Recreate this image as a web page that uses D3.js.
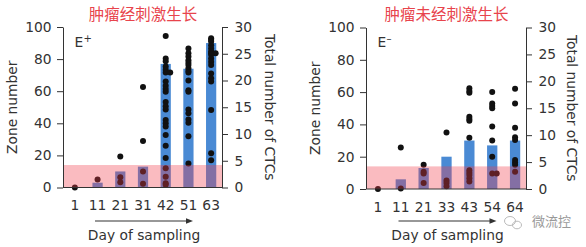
<!DOCTYPE html>
<html>
<head>
<meta charset="utf-8">
<script src="https://cdn.jsdelivr.net/npm/d3@7"></script>
<style>
  body { margin: 0; background: #fff; }
  svg text { font-family: "DejaVu Sans", sans-serif; fill: #333; }
</style>
</head>
<body>
<svg id="chart" width="586" height="247"></svg>
<script>
// zone number above which the tumour counts as stimulated (pink band)
var threshold = 14;

var zoneTicks = [0, 20, 40, 60, 80, 100];
var ctcTicks = [0, 5, 10, 15, 20, 25, 30];

// E+ : tumour growth stimulated
var daysStim = ['1', '11', '21', '31', '42', '51', '63'];
var zonesStim = [0, 3, 10, 13, 77, 74, 90];
var ctcsStim = [
  [0],
  [1.5],
  [5.8, 1.9, 1.0],
  [18.8, 8.7, 3.0, 0.7],
  [28.3, 24.1, 23.6, 22.6, 22.0, 21.5, 21.5, 19.8, 19.0, 18.4, 17.9, 16.0, 15.2, 14.6,
   12.6, 12.0, 11.4, 9.8, 7.8, 5.5, 3.6, 2.0, 0.8, 0.5],
  [26.0, 25.1, 24.5, 23.8, 23.3, 22.9, 22.3, 21.8, 21.5, 20.0, 18.2, 17.9, 14.6, 13.9,
   12.7, 12.1, 9.6, 4.5],
  [27.9, 27.6, 27.3, 26.6, 26.0, 25.4, 25.1, 25.1, 24.8, 24.1, 23.5, 22.9, 21.3, 20.4,
   19.8, 14.5, 6.4, 5.1]
];

// E- : tumour growth not stimulated
var daysCtrl = ['1', '11', '21', '33', '43', '54', '64'];
var zonesCtrl = [0, 6, 13, 20, 30, 27, 30];
var ctcsCtrl = [
  [0],
  [7.7, 0.1],
  [4.5, 3.2, 2.9, 1.1],
  [10.5, 1.6, 1.1, 0.5],
  [18.7, 18.2, 17.9, 13.4, 13.0, 12.7, 9.5, 3.5, 3.0, 2.6, 2.0, 1.4],
  [18.0, 15.9, 15.4, 15.0, 11.6, 9.0, 6.0, 2.9, 2.9],
  [18.6, 15.9, 11.4, 9.6, 9.1, 5.4, 4.9, 4.5, 3.2]
];

var barColor = '#4a8ad4';
var bandColor = 'rgb(240,60,75)';
var titleColor = '#e8444c';
var textColor = '#333';
var fontSize = 13.8;

var svg = d3.select('#chart');

/**
 * Draws one panel: bars (zone number), dots (CTCs), threshold band and axes.
 */
function drawPanel(p) {
  var g = svg.append('g');

  var x = d3.scaleBand()
            .domain(p.days)
            .range([p.left, p.right])
            .paddingInner(0.55)
            .paddingOuter(0.275);

  var yZone = d3.scaleLinear().domain([0, 100]).range([p.bottom, p.top]);
  var yCtc = d3.scaleLinear().domain([0, 30]).range([p.bottom, p.top]);

  // bars
  g.selectAll('rect.bar')
   .data(p.zones).enter()
   .append('rect')
   .attr('class', 'bar')
   .attr('x', function(d, i) { return x(p.days[i]); })
   .attr('y', function(d) { return yZone(d); })
   .attr('width', x.bandwidth())
   .attr('height', function(d) { return yZone(0) - yZone(d); })
   .attr('fill', barColor);

  // dots, repeated values get pushed a bit to the right
  var dots = [];
  p.ctcs.forEach(function(col, i) {
    var seen = {};
    col.forEach(function(v) {
      dots.push({ day: p.days[i], value: v, shift: seen[v] ? 4.5 : 0 });
      seen[v] = true;
    });
  });

  g.selectAll('circle')
   .data(dots).enter()
   .append('circle')
   .attr('cx', function(d) { return x(d.day) + x.bandwidth() / 2 + d.shift; })
   .attr('cy', function(d) { return yCtc(d.value); })
   .attr('r', 3)
   .attr('fill', '#111');

  // translucent threshold band on top of bars and dots
  g.append('rect')
   .attr('x', p.left)
   .attr('y', yZone(threshold))
   .attr('width', p.right - p.left)
   .attr('height', yZone(0) - yZone(threshold))
   .attr('fill', bandColor)
   .attr('opacity', 0.35);

  // axes
  var axes = [
    g.append('g')
     .attr('transform', 'translate(' + (p.left - 0.5) + ',0)')
     .call(d3.axisLeft(yZone).tickValues(zoneTicks).tickSize(6).tickSizeOuter(0).tickPadding(5.5)),
    g.append('g')
     .attr('transform', 'translate(' + (p.right - 0.5) + ',0)')
     .call(d3.axisRight(yCtc).tickValues(ctcTicks).tickSize(6).tickSizeOuter(0).tickPadding(6.5)),
    g.append('g')
     .attr('transform', 'translate(0,' + (p.bottom - 0.5) + ')')
     .call(d3.axisBottom(x).tickSize(0).tickSizeOuter(0).tickPadding(13.7))
  ];
  axes.forEach(function(a) {
    a.attr('font-size', fontSize)
     .attr('font-family', '"DejaVu Sans", sans-serif')
     .attr('color', textColor);
  });

  // title
  g.append('text')
   .attr('x', (p.left + p.right) / 2)
   .attr('y', 19.5)
   .attr('text-anchor', 'middle')
   .style('font-family', '"Noto Sans CJK SC", sans-serif')
   .style('font-size', '15.5px')
   .style('fill', titleColor)
   .text(p.title);

  // E+ / E- tag
  g.append('text')
   .attr('x', p.left + 11)
   .attr('y', 47)
   .style('font-size', fontSize + 'px')
   .text('E');
  g.append('text')
   .attr('x', p.left + 20)
   .attr('y', 41.5)
   .style('font-size', '10px')
   .text(p.sign);

  // axis titles
  var midY = (p.top + p.bottom) / 2;
  g.append('text')
   .attr('transform', 'translate(' + p.zoneLabelX + ',' + midY + ') rotate(-90)')
   .attr('text-anchor', 'middle')
   .style('font-size', fontSize + 'px')
   .text('Zone number');

  g.append('text')
   .attr('transform', 'translate(' + p.ctcLabelX + ',' + midY + ') rotate(90)')
   .attr('text-anchor', 'middle')
   .style('font-size', fontSize + 'px')
   .text('Total number of CTCs');

  // time arrow and label
  var cx = (p.left + p.right) / 2;
  g.append('line')
   .attr('x1', cx - 48).attr('x2', cx + 45)
   .attr('y1', 221).attr('y2', 221)
   .attr('stroke', textColor)
   .attr('stroke-width', 1.1);
  g.append('path')
   .attr('d', 'M' + (cx + 50) + ',221 L' + (cx + 43) + ',218.3 L' + (cx + 43) + ',223.7 Z')
   .attr('fill', textColor);

  g.append('text')
   .attr('x', cx + 1)
   .attr('y', 240)
   .attr('text-anchor', 'middle')
   .style('font-size', fontSize + 'px')
   .text('Day of sampling');
}

drawPanel({
  left: 63.5, right: 222.5, top: 27, bottom: 187.5,
  days: daysStim, zones: zonesStim, ctcs: ctcsStim,
  title: '肿瘤经刺激生长', sign: '+',
  zoneLabelX: 16.5, ctcLabelX: 264.5
});

drawPanel({
  left: 366.5, right: 526.5, top: 27.5, bottom: 189,
  days: daysCtrl, zones: zonesCtrl, ctcs: ctcsCtrl,
  title: '肿瘤未经刺激生长', sign: '\u2013',
  zoneLabelX: 320, ctcLabelX: 567
});

// watermark
var wm = svg.append('g').attr('fill', 'none').attr('stroke', '#bbb').attr('stroke-width', 1);
wm.append('ellipse').attr('cx', 510).attr('cy', 221).attr('rx', 5.5).attr('ry', 4.5);
wm.append('ellipse').attr('cx', 517).attr('cy', 225).attr('rx', 4.5).attr('ry', 3.8);
svg.append('text')
   .attr('x', 532)
   .attr('y', 226)
   .style('font-family', '"Noto Sans CJK SC", sans-serif')
   .style('font-size', '13px')
   .style('fill', '#999')
   .text('微流控');
</script>
</body>
</html>
